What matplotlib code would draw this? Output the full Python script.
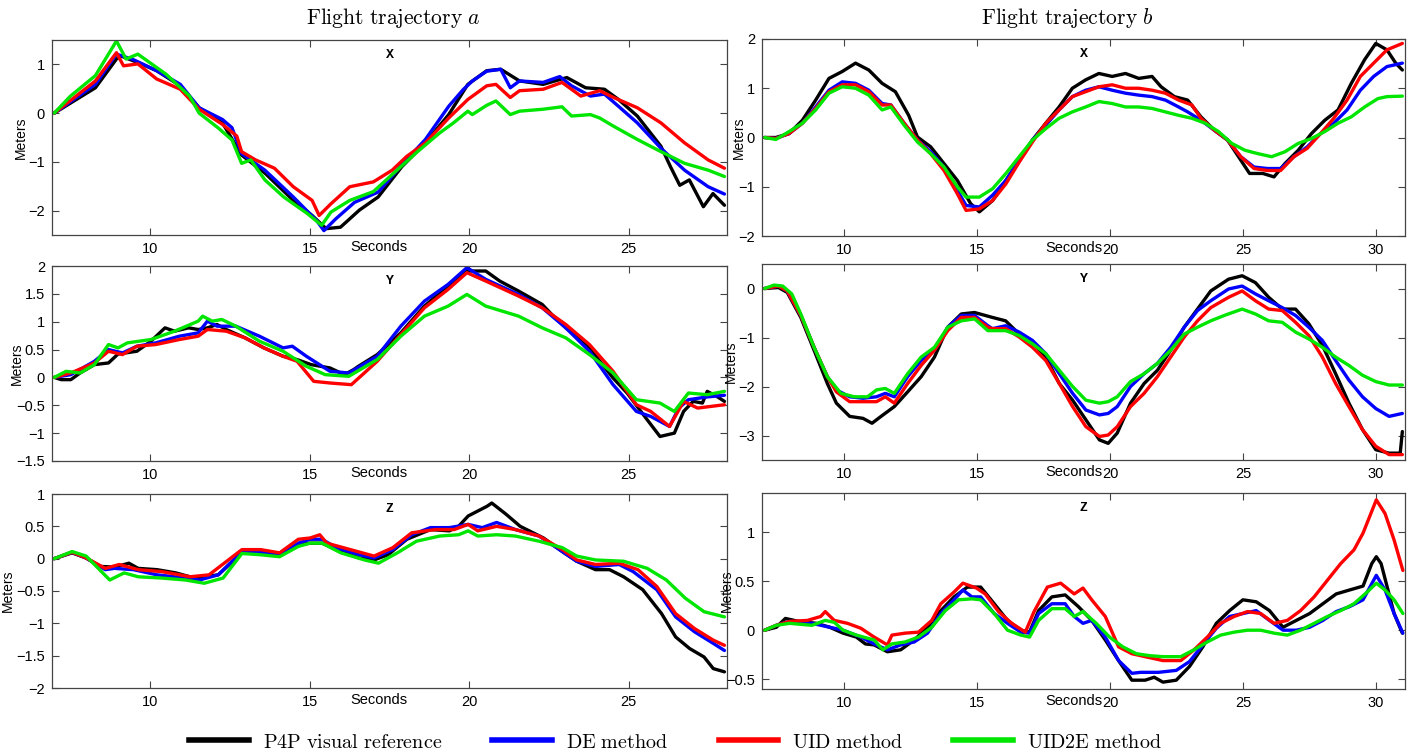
import matplotlib
matplotlib.use('Agg')
import matplotlib.pyplot as plt
from matplotlib.ticker import FuncFormatter
from matplotlib.lines import Line2D

plt.rcParams['mathtext.fontset'] = 'cm'
plt.rcParams['font.family'] = ['Liberation Sans', 'DejaVu Sans']

# ---------------- series labels / colours ----------------
series_labels = ['P4P visual reference', 'DE method', 'UID method', 'UID2E method']
series_colors = ['#000000', '#0000ff', '#ff0000', '#00e600']

# ---------------- Flight trajectory a : X ----------------
xa_p4p_t = [7, 7.52, 8.29, 8.95, 9.1, 9.76, 10.21, 10.95, 11.54, 12.27, 12.87, 13.6, 14.49, 15.08, 15.52, 15.97, 16.56, 17.15, 17.89, 18.63, 19.36, 19.96, 20.55, 20.99, 21.58, 22.32, 23.06, 23.65, 24.24, 24.68, 25.27, 26.01, 26.31, 26.6, 26.9, 27.34, 27.64, 28.0]
xa_p4p_v = [0, 0.21, 0.52, 1.11, 1.17, 1.0, 0.87, 0.56, 0.11, -0.2, -0.86, -1.23, -1.79, -2.1, -2.37, -2.34, -1.99, -1.72, -1.1, -0.61, -0.03, 0.59, 0.87, 0.9, 0.66, 0.59, 0.73, 0.52, 0.49, 0.28, -0.06, -0.68, -1.1, -1.48, -1.37, -1.92, -1.65, -1.89]
xa_de_t = [7, 8.29, 8.95, 9.47, 10.21, 10.95, 11.54, 12.27, 12.57, 12.87, 13.6, 14.49, 15.23, 15.45, 15.82, 16.41, 17.15, 17.89, 18.63, 19.36, 19.81, 20.1, 20.55, 20.99, 21.29, 21.58, 22.32, 22.84, 23.21, 23.8, 24.24, 24.68, 25.27, 26.01, 26.75, 27.49, 28.0]
xa_de_v = [0, 0.59, 1.21, 1.1, 0.87, 0.59, 0.11, -0.13, -0.3, -0.83, -1.17, -1.72, -2.21, -2.41, -2.17, -1.83, -1.62, -1.06, -0.54, 0.14, 0.48, 0.66, 0.86, 0.9, 0.52, 0.66, 0.63, 0.75, 0.56, 0.35, 0.39, 0.14, -0.2, -0.72, -1.17, -1.51, -1.66]
xa_uid_t = [7, 8.29, 8.95, 9.17, 9.62, 10.21, 10.95, 11.54, 12.27, 12.72, 12.87, 13.31, 13.9, 14.49, 15.08, 15.3, 15.67, 16.26, 17.0, 17.59, 18.04, 18.63, 19.36, 19.96, 20.55, 20.84, 21.29, 21.58, 22.32, 22.91, 23.5, 24.09, 24.53, 25.27, 26.01, 26.75, 27.49, 28.0]
xa_uid_v = [0, 0.66, 1.24, 0.97, 1.01, 0.7, 0.49, 0.08, -0.23, -0.47, -0.79, -0.96, -1.13, -1.51, -1.79, -2.1, -1.86, -1.51, -1.41, -1.17, -0.89, -0.61, -0.1, 0.28, 0.56, 0.59, 0.32, 0.46, 0.49, 0.63, 0.35, 0.46, 0.32, 0.11, -0.2, -0.61, -0.96, -1.13]
xa_uid2e_t = [7, 7.51, 8.29, 8.95, 9.25, 9.62, 10.5, 11.24, 11.54, 12.13, 12.57, 12.87, 13.16, 13.6, 14.19, 14.93, 15.38, 15.67, 16.26, 17.0, 17.74, 18.33, 19.07, 19.51, 19.96, 20.1, 20.55, 20.84, 21.29, 21.58, 22.32, 22.91, 23.21, 23.8, 24.09, 24.53, 25.27, 26.01, 26.75, 27.49, 28.0]
xa_uid2e_v = [0, 0.35, 0.77, 1.48, 1.11, 1.21, 0.8, 0.35, 0.0, -0.3, -0.55, -1.03, -0.96, -1.37, -1.72, -2.06, -2.3, -2.03, -1.79, -1.61, -1.17, -0.82, -0.41, -0.2, 0.04, -0.03, 0.16, 0.25, -0.03, 0.04, 0.08, 0.13, -0.06, -0.03, -0.1, -0.27, -0.54, -0.79, -1.03, -1.17, -1.3]

# ---------------- Flight trajectory a : Y ----------------
ya_p4p_t = [7, 7.22, 7.52, 7.81, 8.26, 8.7, 9.0, 9.59, 10.03, 10.47, 10.77, 11.21, 11.51, 11.8, 12.1, 12.39, 12.98, 13.57, 14.17, 14.61, 15.05, 15.64, 16.09, 16.38, 16.53, 17.12, 17.86, 18.6, 19.34, 19.93, 20.52, 20.96, 21.55, 22.29, 22.59, 23.03, 23.77, 24.51, 24.95, 25.54, 25.98, 26.43, 26.72, 27.02, 27.31, 27.46, 27.76, 28.0]
ya_p4p_v = [0, -0.04, -0.04, 0.08, 0.23, 0.26, 0.42, 0.47, 0.65, 0.89, 0.83, 0.89, 0.86, 0.89, 0.95, 0.86, 0.71, 0.53, 0.38, 0.32, 0.23, 0.17, 0.05, 0.14, 0.2, 0.41, 0.8, 1.28, 1.64, 1.91, 1.91, 1.73, 1.55, 1.31, 1.13, 0.89, 0.53, -0.01, -0.28, -0.73, -1.06, -1.0, -0.61, -0.43, -0.46, -0.25, -0.34, -0.43]
ya_de_t = [7, 7.52, 8.26, 8.7, 9.14, 9.59, 10.18, 10.92, 11.51, 11.8, 12.1, 12.69, 13.43, 14.17, 14.46, 14.9, 15.64, 16.23, 17.12, 17.86, 18.6, 19.34, 19.93, 20.52, 21.55, 22.29, 23.03, 23.77, 24.51, 25.24, 25.69, 26.28, 26.57, 26.87, 27.46, 28.0]
ya_de_v = [0, 0.05, 0.29, 0.5, 0.44, 0.56, 0.62, 0.74, 0.8, 1.01, 0.92, 0.92, 0.74, 0.53, 0.56, 0.38, 0.11, 0.08, 0.38, 0.92, 1.37, 1.67, 1.97, 1.76, 1.49, 1.25, 0.89, 0.47, -0.13, -0.61, -0.7, -0.88, -0.55, -0.4, -0.35, -0.32]
ya_uid_t = [7, 7.52, 8.26, 8.7, 9.14, 9.59, 10.18, 10.92, 11.51, 11.8, 12.39, 12.98, 13.57, 14.17, 14.61, 15.13, 15.64, 16.31, 17.12, 17.86, 18.6, 19.34, 19.93, 20.52, 21.55, 22.29, 23.03, 23.77, 24.51, 25.24, 25.69, 26.28, 26.72, 27.16, 28.0]
ya_uid_v = [0, 0.08, 0.26, 0.47, 0.41, 0.56, 0.59, 0.68, 0.74, 0.86, 0.83, 0.71, 0.53, 0.38, 0.29, -0.07, -0.1, -0.13, 0.29, 0.77, 1.25, 1.58, 1.88, 1.73, 1.46, 1.25, 0.95, 0.59, 0.11, -0.49, -0.61, -0.88, -0.43, -0.55, -0.49]
ya_uid2e_t = [7, 7.37, 7.81, 8.26, 8.7, 9.0, 9.29, 10.03, 10.77, 11.51, 11.65, 11.95, 12.25, 12.69, 13.43, 14.17, 14.9, 15.49, 16.23, 17.12, 17.86, 18.6, 19.34, 19.93, 20.52, 21.55, 22.29, 23.03, 23.77, 24.51, 25.24, 25.98, 26.43, 26.87, 27.46, 28.0]
ya_uid2e_v = [0, 0.11, 0.08, 0.23, 0.59, 0.53, 0.62, 0.68, 0.83, 1.01, 1.1, 1.01, 1.04, 0.92, 0.65, 0.47, 0.2, 0.05, 0.02, 0.32, 0.74, 1.1, 1.28, 1.49, 1.28, 1.1, 0.89, 0.71, 0.41, 0.08, -0.4, -0.46, -0.61, -0.28, -0.31, -0.25]

# ---------------- Flight trajectory a : Z ----------------
za_p4p_t = [7, 7.56, 8.0, 8.45, 8.89, 9.34, 9.63, 10.22, 10.81, 11.4, 12.14, 12.88, 13.47, 14.06, 14.65, 15.02, 15.39, 15.98, 16.57, 17.02, 17.46, 18.05, 18.79, 19.38, 19.67, 19.97, 20.56, 20.71, 21.15, 21.6, 22.33, 22.92, 23.37, 23.96, 24.4, 24.84, 25.44, 26.03, 26.47, 26.91, 27.36, 27.65, 28.0]
za_p4p_v = [0, 0.09, 0.01, -0.12, -0.13, -0.07, -0.15, -0.17, -0.22, -0.3, -0.25, 0.09, 0.08, 0.06, 0.22, 0.24, 0.24, 0.11, 0.01, -0.02, 0.06, 0.3, 0.45, 0.43, 0.5, 0.66, 0.81, 0.86, 0.69, 0.5, 0.32, 0.11, -0.04, -0.17, -0.17, -0.28, -0.48, -0.85, -1.21, -1.39, -1.52, -1.7, -1.75]
za_de_t = [7, 7.56, 8.0, 8.6, 8.89, 9.48, 10.22, 11.11, 11.55, 12.14, 12.88, 13.47, 14.06, 14.65, 15.02, 15.39, 15.83, 16.57, 17.02, 17.61, 18.2, 18.79, 19.38, 19.97, 20.41, 20.86, 21.45, 22.19, 22.92, 23.37, 23.96, 24.7, 25.14, 25.88, 26.47, 27.06, 27.65, 28.0]
za_de_v = [0, 0.1, 0.01, -0.17, -0.15, -0.17, -0.25, -0.3, -0.33, -0.25, 0.11, 0.1, 0.06, 0.24, 0.3, 0.3, 0.17, 0.06, 0.01, 0.14, 0.37, 0.48, 0.48, 0.53, 0.48, 0.56, 0.45, 0.35, 0.11, -0.04, -0.12, -0.09, -0.2, -0.48, -0.9, -1.13, -1.31, -1.42]
za_uid_t = [7, 7.56, 8.0, 8.6, 9.04, 9.63, 10.37, 11.26, 11.85, 12.88, 13.47, 14.06, 14.65, 15.02, 15.32, 15.54, 16.28, 17.02, 17.61, 18.2, 18.94, 19.53, 19.97, 20.27, 20.86, 21.45, 22.19, 22.92, 23.37, 23.96, 24.7, 25.29, 25.88, 26.47, 27.06, 27.65, 28.0]
za_uid_v = [0, 0.1, 0.01, -0.15, -0.09, -0.17, -0.2, -0.28, -0.25, 0.14, 0.14, 0.09, 0.3, 0.32, 0.37, 0.24, 0.14, 0.04, 0.17, 0.4, 0.45, 0.45, 0.53, 0.43, 0.5, 0.45, 0.35, 0.14, -0.02, -0.09, -0.07, -0.17, -0.43, -0.85, -1.08, -1.26, -1.34]
za_uid2e_t = [7, 7.56, 8.0, 8.74, 9.19, 9.63, 10.37, 11.11, 11.7, 12.29, 12.88, 13.47, 14.06, 14.65, 15.02, 15.39, 15.98, 16.72, 17.16, 17.75, 18.35, 19.08, 19.67, 19.97, 20.27, 20.86, 21.45, 22.19, 22.92, 23.37, 23.96, 24.84, 25.58, 26.18, 26.77, 27.36, 28.0]
za_uid2e_v = [0, 0.11, 0.04, -0.33, -0.22, -0.28, -0.3, -0.33, -0.38, -0.3, 0.08, 0.06, 0.03, 0.19, 0.24, 0.24, 0.09, -0.02, -0.07, 0.09, 0.27, 0.35, 0.37, 0.43, 0.35, 0.37, 0.35, 0.27, 0.17, 0.04, -0.02, -0.04, -0.15, -0.33, -0.61, -0.82, -0.9]

# ---------------- Flight trajectory b : X ----------------
xb_p4p_t = [7, 7.42, 7.92, 8.42, 8.92, 9.42, 9.92, 10.42, 10.92, 11.42, 11.92, 12.42, 12.75, 13.25, 13.75, 14.25, 14.75, 15.08, 15.58, 16.08, 16.58, 17.08, 17.58, 18.08, 18.58, 19.08, 19.58, 20.08, 20.58, 21.08, 21.58, 21.92, 22.42, 22.92, 23.42, 23.92, 24.42, 24.92, 25.25, 25.75, 26.17, 26.58, 27.08, 27.58, 28.08, 28.58, 29.08, 29.58, 30.0, 30.42, 30.75, 31.0]
xb_p4p_v = [0, 0, 0.08, 0.35, 0.76, 1.2, 1.34, 1.51, 1.37, 1.1, 0.93, 0.45, 0.01, -0.19, -0.53, -0.87, -1.34, -1.51, -1.28, -0.87, -0.46, -0.05, 0.29, 0.62, 1.0, 1.17, 1.3, 1.24, 1.3, 1.2, 1.24, 1.03, 0.83, 0.76, 0.42, 0.15, -0.05, -0.46, -0.73, -0.73, -0.8, -0.53, -0.26, 0.08, 0.35, 0.56, 1.1, 1.58, 1.91, 1.78, 1.51, 1.37]
xb_de_t = [7, 7.42, 7.92, 8.42, 8.92, 9.42, 9.92, 10.42, 10.92, 11.42, 11.75, 12.25, 12.75, 13.25, 13.75, 14.25, 14.58, 15.08, 15.58, 16.08, 16.58, 17.08, 17.58, 18.08, 18.58, 19.08, 19.58, 20.08, 20.58, 21.08, 21.58, 22.08, 22.58, 22.92, 23.42, 23.92, 24.42, 24.92, 25.42, 25.92, 26.42, 26.92, 27.42, 27.92, 28.42, 28.92, 29.42, 29.92, 30.42, 31.0]
xb_de_v = [0, -0.02, 0.08, 0.29, 0.62, 0.96, 1.13, 1.1, 0.96, 0.69, 0.66, 0.29, -0.05, -0.29, -0.6, -1.07, -1.38, -1.41, -1.17, -0.87, -0.46, -0.05, 0.25, 0.56, 0.83, 0.96, 1.03, 0.96, 0.9, 0.86, 0.83, 0.76, 0.62, 0.52, 0.35, 0.15, -0.05, -0.39, -0.6, -0.63, -0.63, -0.39, -0.19, 0.08, 0.29, 0.56, 0.96, 1.24, 1.44, 1.51]
xb_uid_t = [7, 7.42, 7.92, 8.42, 8.92, 9.42, 9.92, 10.42, 10.92, 11.42, 11.75, 12.25, 12.75, 13.25, 13.75, 14.25, 14.58, 15.08, 15.58, 16.08, 16.58, 17.08, 17.58, 18.08, 18.58, 19.08, 19.58, 20.08, 20.58, 21.08, 21.58, 22.08, 22.58, 23.08, 23.42, 23.92, 24.42, 24.92, 25.42, 25.92, 26.42, 26.92, 27.42, 27.92, 28.42, 28.92, 29.42, 29.92, 30.42, 31.0]
xb_uid_v = [0, -0.02, 0.08, 0.29, 0.59, 0.93, 1.07, 1.07, 0.93, 0.66, 0.66, 0.29, -0.05, -0.33, -0.67, -1.14, -1.48, -1.45, -1.28, -0.94, -0.5, -0.09, 0.29, 0.56, 0.83, 0.93, 1.03, 1.07, 1.0, 1.0, 0.96, 0.9, 0.76, 0.66, 0.39, 0.15, -0.05, -0.39, -0.63, -0.67, -0.67, -0.39, -0.22, 0.08, 0.39, 0.76, 1.24, 1.51, 1.78, 1.91]
xb_uid2e_t = [7, 7.42, 7.92, 8.42, 8.92, 9.42, 9.92, 10.42, 10.92, 11.42, 11.75, 12.25, 12.75, 13.25, 13.75, 14.25, 14.58, 15.08, 15.58, 16.08, 16.58, 17.08, 17.58, 18.08, 18.58, 19.08, 19.58, 20.08, 20.58, 21.08, 21.58, 22.08, 22.58, 23.08, 23.58, 24.08, 24.58, 25.08, 25.58, 26.08, 26.58, 27.08, 27.58, 28.08, 28.58, 29.08, 29.58, 30.08, 30.42, 31.0]
xb_uid2e_v = [0, -0.04, 0.12, 0.29, 0.56, 0.9, 1.03, 1.0, 0.86, 0.56, 0.62, 0.25, -0.09, -0.33, -0.6, -1.0, -1.21, -1.21, -1.04, -0.73, -0.39, -0.05, 0.18, 0.39, 0.52, 0.62, 0.73, 0.69, 0.62, 0.62, 0.59, 0.52, 0.45, 0.39, 0.29, 0.12, -0.12, -0.26, -0.33, -0.39, -0.29, -0.12, -0.02, 0.12, 0.29, 0.42, 0.62, 0.79, 0.83, 0.84]

# ---------------- Flight trajectory b : Y ----------------
yb_p4p_t = [7, 7.52, 7.85, 8.36, 8.86, 9.36, 9.7, 10.2, 10.7, 11.04, 11.38, 11.88, 12.38, 12.89, 13.39, 13.89, 14.4, 14.9, 15.57, 16.07, 16.58, 17.08, 17.58, 18.09, 18.59, 19.09, 19.6, 19.93, 20.27, 20.77, 21.28, 21.78, 22.28, 22.79, 23.29, 23.79, 24.46, 24.97, 25.47, 25.97, 26.48, 26.98, 27.48, 27.99, 28.49, 28.99, 29.5, 30.0, 30.5, 30.92, 31.0]
yb_p4p_v = [0, 0.02, -0.08, -0.59, -1.26, -1.94, -2.34, -2.61, -2.65, -2.75, -2.61, -2.41, -2.11, -1.8, -1.4, -0.79, -0.52, -0.49, -0.59, -0.66, -0.93, -1.09, -1.4, -1.94, -2.28, -2.68, -3.09, -3.16, -2.95, -2.34, -1.94, -1.67, -1.26, -0.79, -0.42, -0.05, 0.19, 0.26, 0.12, -0.18, -0.42, -0.42, -0.72, -1.16, -1.74, -2.34, -2.88, -3.29, -3.36, -3.36, -2.92]
yb_de_t = [7, 7.52, 7.85, 8.36, 8.86, 9.36, 9.7, 10.2, 10.7, 11.21, 11.54, 11.88, 12.38, 12.89, 13.39, 13.89, 14.4, 14.9, 15.4, 15.57, 16.07, 16.58, 17.08, 17.58, 18.09, 18.59, 19.09, 19.6, 19.93, 20.27, 20.77, 21.28, 21.78, 22.28, 22.79, 23.29, 23.79, 24.46, 24.97, 25.47, 25.97, 26.48, 26.98, 27.48, 27.99, 28.49, 28.99, 29.5, 30.0, 30.5, 31.0]
yb_de_v = [0, 0.05, -0.05, -0.55, -1.2, -1.8, -2.07, -2.21, -2.24, -2.21, -2.14, -2.21, -1.8, -1.47, -1.26, -0.79, -0.55, -0.55, -0.76, -0.82, -0.76, -0.89, -1.06, -1.33, -1.74, -2.14, -2.48, -2.58, -2.55, -2.41, -2.0, -1.74, -1.53, -1.2, -0.79, -0.45, -0.25, -0.01, 0.05, -0.11, -0.25, -0.39, -0.55, -0.79, -1.06, -1.47, -1.87, -2.21, -2.45, -2.61, -2.55]
yb_uid_t = [7, 7.52, 7.85, 8.36, 8.86, 9.36, 9.7, 10.2, 10.7, 11.21, 11.54, 11.88, 12.38, 12.89, 13.39, 13.89, 14.4, 14.9, 15.4, 15.57, 16.07, 16.58, 17.08, 17.58, 18.09, 18.59, 19.09, 19.6, 19.93, 20.27, 20.77, 21.28, 21.78, 22.28, 22.79, 23.29, 23.79, 24.46, 24.97, 25.47, 25.97, 26.48, 26.98, 27.48, 27.99, 28.49, 28.99, 29.5, 30.0, 30.5, 31.0]
yb_uid_v = [0, 0.05, -0.05, -0.55, -1.2, -1.8, -2.11, -2.31, -2.31, -2.31, -2.21, -2.34, -1.94, -1.57, -1.26, -0.86, -0.59, -0.59, -0.79, -0.82, -0.82, -0.99, -1.2, -1.47, -1.94, -2.41, -2.82, -3.02, -2.99, -2.82, -2.41, -2.14, -1.8, -1.4, -0.99, -0.66, -0.39, -0.18, -0.05, -0.25, -0.42, -0.45, -0.69, -0.96, -1.4, -1.94, -2.41, -2.88, -3.22, -3.39, -3.39]
yb_uid2e_t = [7, 7.35, 7.68, 8.02, 8.36, 8.86, 9.36, 9.87, 10.37, 10.87, 11.21, 11.54, 11.88, 12.38, 12.89, 13.39, 13.89, 14.4, 14.9, 15.4, 16.07, 16.58, 17.08, 17.58, 18.09, 18.59, 19.09, 19.6, 19.93, 20.27, 20.77, 21.28, 21.78, 22.28, 22.79, 23.29, 23.79, 24.3, 24.97, 25.47, 25.97, 26.48, 26.98, 27.48, 27.99, 28.49, 28.99, 29.5, 30.0, 30.5, 31.0]
yb_uid2e_v = [0, 0.07, 0.05, -0.11, -0.52, -1.2, -1.8, -2.14, -2.21, -2.21, -2.07, -2.04, -2.14, -1.74, -1.4, -1.2, -0.79, -0.66, -0.62, -0.86, -0.86, -0.96, -1.13, -1.33, -1.67, -2.0, -2.28, -2.34, -2.31, -2.21, -1.9, -1.74, -1.53, -1.26, -0.93, -0.79, -0.66, -0.55, -0.42, -0.52, -0.66, -0.69, -0.89, -1.03, -1.2, -1.4, -1.57, -1.77, -1.9, -1.97, -1.97]

# ---------------- Flight trajectory b : Z ----------------
zb_p4p_t = [7, 7.44, 7.78, 8.28, 8.95, 9.45, 9.95, 10.45, 10.79, 11.12, 11.62, 12.12, 12.63, 13.13, 13.63, 14.13, 14.63, 15.13, 15.64, 16.14, 16.64, 16.97, 17.31, 17.81, 18.31, 18.81, 19.31, 19.82, 20.32, 20.82, 21.32, 21.66, 21.99, 22.49, 22.99, 23.49, 24.0, 24.5, 25.0, 25.5, 26.0, 26.51, 27.01, 27.51, 28.01, 28.51, 29.01, 29.52, 29.85, 30.02, 30.2, 30.45, 30.69, 31.0]
zb_p4p_v = [0, 0.03, 0.12, 0.09, 0.07, 0.03, -0.03, -0.07, -0.14, -0.15, -0.22, -0.2, -0.1, 0.03, 0.2, 0.34, 0.44, 0.44, 0.27, 0.1, 0.0, -0.02, 0.2, 0.34, 0.36, 0.24, 0.1, -0.1, -0.31, -0.51, -0.51, -0.48, -0.53, -0.51, -0.37, -0.17, 0.07, 0.2, 0.31, 0.29, 0.2, 0.03, 0.1, 0.17, 0.27, 0.37, 0.41, 0.45, 0.68, 0.75, 0.68, 0.42, 0.17, -0.03]
zb_de_t = [7, 7.44, 7.94, 8.78, 9.45, 9.95, 10.62, 11.12, 11.62, 12.12, 12.63, 13.13, 13.63, 14.13, 14.46, 14.8, 15.13, 15.64, 16.14, 16.64, 16.97, 17.31, 17.81, 18.31, 18.65, 18.98, 19.31, 19.82, 20.32, 20.82, 21.15, 21.82, 22.49, 22.99, 23.49, 24.0, 24.5, 25.0, 25.5, 26.0, 26.51, 27.01, 27.51, 28.01, 28.51, 29.01, 29.52, 30.02, 30.35, 30.69, 31.02]
zb_de_v = [0, 0.05, 0.09, 0.07, 0.03, 0.0, -0.07, -0.14, -0.2, -0.15, -0.12, -0.03, 0.17, 0.31, 0.41, 0.34, 0.34, 0.17, 0.07, -0.02, -0.03, 0.17, 0.27, 0.27, 0.14, 0.07, 0.1, -0.07, -0.31, -0.44, -0.43, -0.43, -0.41, -0.32, -0.15, 0.02, 0.14, 0.17, 0.2, 0.1, 0.0, 0.0, 0.03, 0.1, 0.19, 0.24, 0.31, 0.56, 0.41, 0.17, -0.03]
zb_uid_t = [7, 7.44, 7.94, 8.61, 9.11, 9.28, 9.62, 10.12, 10.62, 11.12, 11.62, 11.79, 12.29, 12.79, 13.29, 13.63, 14.13, 14.46, 14.97, 15.3, 15.8, 16.3, 16.81, 17.14, 17.64, 18.14, 18.65, 18.98, 19.31, 19.82, 20.32, 20.82, 21.32, 21.99, 22.66, 23.16, 23.66, 24.16, 24.67, 25.17, 25.67, 26.17, 26.67, 27.17, 27.68, 28.18, 28.68, 29.18, 29.52, 30.02, 30.35, 30.69, 31.02]
zb_uid_v = [0, 0.05, 0.09, 0.1, 0.14, 0.19, 0.1, 0.07, 0.02, -0.07, -0.15, -0.05, -0.03, -0.02, 0.1, 0.27, 0.39, 0.48, 0.43, 0.37, 0.19, 0.07, -0.02, 0.19, 0.44, 0.48, 0.37, 0.43, 0.31, 0.14, -0.17, -0.24, -0.27, -0.31, -0.31, -0.2, -0.07, 0.07, 0.14, 0.19, 0.17, 0.07, 0.1, 0.2, 0.34, 0.51, 0.68, 0.82, 0.99, 1.33, 1.19, 0.92, 0.61]
zb_uid2e_t = [7, 7.44, 7.94, 8.78, 9.28, 9.62, 9.95, 10.45, 11.12, 11.45, 11.79, 12.29, 12.79, 13.29, 13.8, 14.3, 14.8, 15.13, 15.64, 16.14, 16.64, 16.97, 17.31, 17.81, 18.31, 18.65, 18.98, 19.48, 19.98, 20.48, 20.99, 21.49, 21.99, 22.66, 23.16, 23.66, 24.16, 24.67, 25.17, 25.67, 26.17, 26.67, 27.17, 27.68, 28.18, 28.68, 29.18, 29.68, 30.02, 30.35, 30.69, 31.02]
zb_uid2e_v = [0, 0.05, 0.07, 0.05, 0.1, 0.08, 0.0, -0.05, -0.1, -0.2, -0.14, -0.12, -0.07, 0.03, 0.2, 0.31, 0.32, 0.31, 0.17, 0.0, -0.05, -0.07, 0.1, 0.22, 0.22, 0.14, 0.19, 0.07, -0.07, -0.17, -0.24, -0.26, -0.27, -0.27, -0.2, -0.12, -0.05, -0.02, 0.0, 0.0, -0.03, -0.05, 0.0, 0.07, 0.14, 0.2, 0.27, 0.39, 0.48, 0.41, 0.31, 0.17]

# ---------------- axis settings ----------------
xa_yticks = [-2, -1, 0, 1]
ya_yticks = [-1.5, -1, -0.5, 0, 0.5, 1, 1.5, 2]
za_yticks = [-2, -1.5, -1, -0.5, 0, 0.5, 1]
xb_yticks = [-2, -1, 0, 1, 2]
yb_yticks = [-3, -2, -1, 0]
zb_yticks = [-0.5, 0, 0.5, 1]
a_xticks = [10, 15, 20, 25]
b_xticks = [10, 15, 20, 25, 30]

W, H = 1418, 753
fig = plt.figure(figsize=(W / 100, H / 100), dpi=100)

def px_rect(x0, x1, ytop, ybot):
    return [x0 / W, 1 - ybot / H, (x1 - x0) / W, (ybot - ytop) / H]

panels = [
    (px_rect(52, 727, 40, 235), (6.93, 28.08), (-2.5, 1.5), xa_yticks, a_xticks, 'X',
     [(xa_p4p_t, xa_p4p_v), (xa_de_t, xa_de_v), (xa_uid_t, xa_uid_v), (xa_uid2e_t, xa_uid2e_v)]),
    (px_rect(52, 727, 266, 461), (6.93, 28.08), (-1.5, 2.0), ya_yticks, a_xticks, 'Y',
     [(ya_p4p_t, ya_p4p_v), (ya_de_t, ya_de_v), (ya_uid_t, ya_uid_v), (ya_uid2e_t, ya_uid2e_v)]),
    (px_rect(52, 727, 494, 688), (6.93, 28.08), (-2.0, 1.0), za_yticks, a_xticks, 'Z',
     [(za_p4p_t, za_p4p_v), (za_de_t, za_de_v), (za_uid_t, za_uid_v), (za_uid2e_t, za_uid2e_v)]),
    (px_rect(762, 1405, 39, 236), (6.9, 31.1), (-2.0, 2.0), xb_yticks, b_xticks, 'X',
     [(xb_p4p_t, xb_p4p_v), (xb_de_t, xb_de_v), (xb_uid_t, xb_uid_v), (xb_uid2e_t, xb_uid2e_v)]),
    (px_rect(762, 1405, 264, 460), (6.9, 31.1), (-3.5, 0.5), yb_yticks, b_xticks, 'Y',
     [(yb_p4p_t, yb_p4p_v), (yb_de_t, yb_de_v), (yb_uid_t, yb_uid_v), (yb_uid2e_t, yb_uid2e_v)]),
    (px_rect(762, 1405, 493, 689), (6.9, 31.1), (-0.6, 1.4), zb_yticks, b_xticks, 'Z',
     [(zb_p4p_t, zb_p4p_v), (zb_de_t, zb_de_v), (zb_uid_t, zb_uid_v), (zb_uid2e_t, zb_uid2e_v)]),
]

fmt = FuncFormatter(lambda v, p: ('%g' % v).replace('-', '\u2212'))
axes = []
for rect, xlim, ylim, yticks, xticks, title, series in panels:
    ax = fig.add_axes(rect)
    for (t, v), c in zip(series, series_colors):
        n = min(len(t), len(v))
        ax.plot(t[:n], v[:n], color=c, lw=2.4, solid_joinstyle='round', solid_capstyle='round')
    ax.set_xlim(*xlim)
    ax.set_ylim(*ylim)
    ax.set_xticks(xticks)
    ax.set_yticks(yticks)
    ax.xaxis.set_major_formatter(fmt)
    ax.yaxis.set_major_formatter(fmt)
    ax.tick_params(direction='in', top=True, right=True, length=5, width=0.8,
                   labelsize=10.5, pad=5, color='#444444')
    for s in ax.spines.values():
        s.set_color('#444444')
        s.set_linewidth(0.9)
    ax.set_xlabel('Seconds', fontsize=10.5)
    ax.xaxis.set_label_coords(0.485, -0.025)
    ax.set_ylabel('Meters', fontsize=10)
    ax.yaxis.set_label_coords(-0.03, 0.5)
    ax.text(0.5, 0.925, title, transform=ax.transAxes, ha='center', va='center',
            family=['Liberation Mono', 'DejaVu Sans Mono'], weight='bold', fontsize=9.5)
    axes.append(ax)

# place the "Meters" labels just left of the tick labels that share their height
fig.canvas.draw()
renderer = fig.canvas.get_renderer()
for ax in axes:
    lab = ax.yaxis.label.get_window_extent(renderer)
    boxes = [l.get_window_extent(renderer) for l in ax.get_yticklabels() if l.get_text()]
    near = [b for b in boxes if b.y1 > lab.y0 - 2 and b.y0 < lab.y1 + 2] or boxes
    x0 = min(b.x0 for b in near)
    xa = ax.transAxes.inverted().transform((x0 - 1.0, 0))[0]
    ax.yaxis.set_label_coords(xa, 0.5)

# column titles
fig.text(393 / W, 1 - 18 / H, r'$\mathrm{Flight\ trajectory}\ a$', fontsize=15.5, ha='center', va='center')
fig.text(1067 / W, 1 - 18 / H, r'$\mathrm{Flight\ trajectory}\ b$', fontsize=15.5, ha='center', va='center')

handles = [Line2D([], [], color=c, lw=4) for c in series_colors]
labels = [r'$\mathrm{%s}$' % s.replace(' ', r'\ ') for s in series_labels]
fig.legend(handles, labels, loc='center', bbox_to_anchor=(675.5 / W, 1 - 742 / H), ncol=4,
           frameon=False, fontsize=14.5, handlelength=2.95, columnspacing=2.5,
           handletextpad=0.7, borderaxespad=0, borderpad=0)

fig.savefig('out.png', dpi=100)
